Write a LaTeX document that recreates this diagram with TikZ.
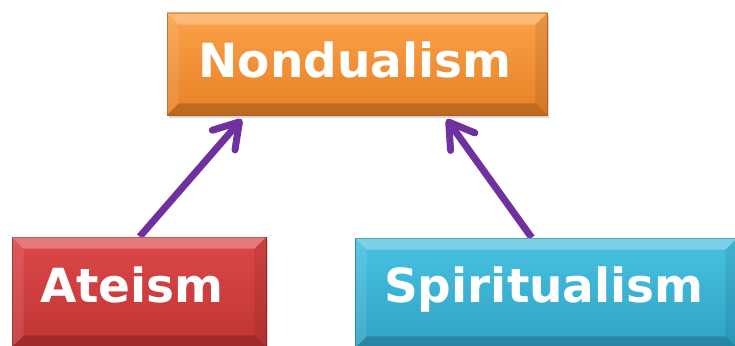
\documentclass[tikz,border=0pt]{standalone}
\usepackage{fontspec}
\newfontfamily\boxfont{DejaVu Sans}
\usetikzlibrary{arrows.meta,calc,shadows,backgrounds}
\definecolor{orTop}{RGB}{250,162,72}
\definecolor{orBot}{RGB}{232,128,38}
\definecolor{orEdge}{RGB}{190,100,30}
\definecolor{rdTop}{RGB}{220,72,72}
\definecolor{rdBot}{RGB}{192,52,52}
\definecolor{rdEdge}{RGB}{150,35,35}
\definecolor{blTop}{RGB}{72,194,224}
\definecolor{blBot}{RGB}{48,162,198}
\definecolor{blEdge}{RGB}{30,120,150}
\definecolor{arrowPurple}{RGB}{112,48,160}
\tikzset{
  bevelbox/.style={rectangle, inner sep=0pt, draw=#1Edge, line width=0.6pt,
    top color=#1Top, bottom color=#1Bot,
    drop shadow={opacity=0.3, shadow xshift=2pt, shadow yshift=-3pt}},
  boxtext/.style={text=white, font=\boxfont\bfseries\fontsize{47}{50}\selectfont,
    inner sep=0pt, anchor=base},
  link/.style={draw=arrowPurple, line width=7pt,
    -{Straight Barb[length=24pt,width=30pt,round]}},
}
\newcommand\bevelof[1]{%
  \fill[white,opacity=0.28] (#1.north west) -- (#1.north east) -- ($(#1.north east)+(-12pt,-12pt)$) -- ($(#1.north west)+(12pt,-12pt)$) -- cycle;
  \fill[black,opacity=0.18] (#1.south west) -- (#1.south east) -- ($(#1.south east)+(-12pt,12pt)$) -- ($(#1.south west)+(12pt,12pt)$) -- cycle;
  \fill[white,opacity=0.10] (#1.north west) -- ($(#1.north west)+(12pt,-12pt)$) -- ($(#1.south west)+(12pt,12pt)$) -- (#1.south west) -- cycle;
  \fill[black,opacity=0.08] (#1.north east) -- ($(#1.north east)+(-12pt,-12pt)$) -- ($(#1.south east)+(-12pt,12pt)$) -- (#1.south east) -- cycle;
}
\begin{document}
\begin{tikzpicture}[x=1pt,y=-1pt]
\useasboundingbox (0,0) rectangle (735,345);
\node[bevelbox=or, minimum width=380pt, minimum height=102pt] (nd) at (357,64) {};
\bevelof{nd}
\node[bevelbox=rd, minimum width=254pt, minimum height=110pt] (at) at (139,292) {};
\bevelof{at}
\node[bevelbox=bl, minimum width=382pt, minimum height=110pt] (sp) at (546,293) {};
\bevelof{sp}
\node[boxtext] (ndt) at (355,77) {Nondualism};
\node[boxtext] (att) at (132,302) {Ateism};
\node[boxtext] (spt) at (544,302) {Spiritualism};
\begin{pgfonlayer}{background}
\draw[link] ($(at.north west)+(128pt,0pt)$) -- ($(nd.south west)+(75pt,-4pt)$);
\draw[link] ($(sp.north west)+(177pt,0pt)$) -- ($(nd.south west)+(280pt,-4pt)$);
\end{pgfonlayer}
\end{tikzpicture}
\end{document}
